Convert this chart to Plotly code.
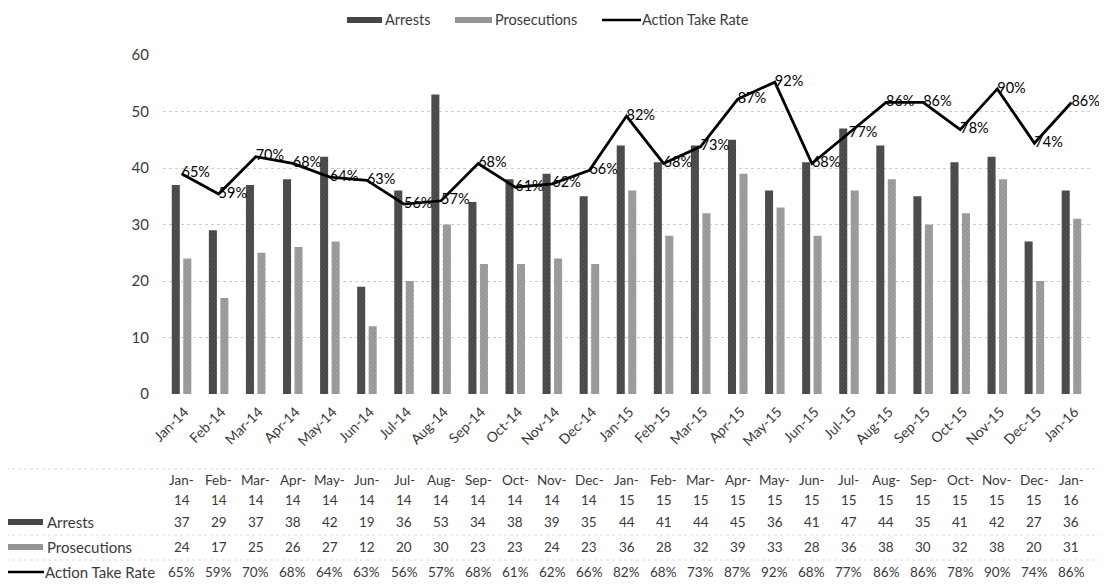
import plotly.graph_objects as go

months = ["Jan-14","Feb-14","Mar-14","Apr-14","May-14","Jun-14","Jul-14","Aug-14","Sep-14","Oct-14","Nov-14","Dec-14",
          "Jan-15","Feb-15","Mar-15","Apr-15","May-15","Jun-15","Jul-15","Aug-15","Sep-15","Oct-15","Nov-15","Dec-15","Jan-16"]
arrests = [37,29,37,38,42,19,36,53,34,38,39,35,44,41,44,45,36,41,47,44,35,41,42,27,36]
prosecutions = [24,17,25,26,27,12,20,30,23,23,24,23,36,28,32,39,33,28,36,38,30,32,38,20,31]
rate = [65,59,70,68,64,63,56,57,68,61,62,66,82,68,73,87,92,68,77,86,86,78,90,74,86]

# page body has an 8px margin; figure is sized to fit the 1107x585 window
OFF = 8
W, H = 1107 - OFF, 585 - OFF
# plot area in window pixels
PL, PR, PT, PB = 163, 1090, 55, 394
L, R, T, B = PL - OFF, W - (PR - OFF), PT - OFF, H - (PB - OFF)
FONT = "Lato"
ARR_C = "#464646"
PRO_C = "#959595"
TXT = "#3a3a3a"

def px(p):
    return (p - PL) / (PR - PL)

def py(p):
    return (PB - p) / (PB - PT)

fig = go.Figure()
fig.add_trace(go.Bar(x=months, y=arrests, name="Arrests", marker=dict(color=ARR_C, line_width=0,
                     pattern=dict(shape="x", fgcolor="#7a7a7a", size=3, solidity=0.3)), showlegend=False))
fig.add_trace(go.Bar(x=months, y=prosecutions, name="Prosecutions", marker=dict(color=PRO_C, line_width=0,
                     pattern=dict(shape="x", fgcolor="#c8c8c8", size=3, solidity=0.3)), showlegend=False))
fig.add_trace(go.Scatter(x=months, y=[r / 100 for r in rate], yaxis="y2", mode="lines+text", name="Action Take Rate",
                         line=dict(color="black", width=2.8), text=[f"{r}%" for r in rate],
                         textposition="middle right", textfont=dict(family=FONT, size=14.5, color="black"),
                         showlegend=False, cliponaxis=False))

fig.update_layout(
    width=W, height=H, margin=dict(l=L, r=R, t=T, b=B, autoexpand=False),
    paper_bgcolor="white", plot_bgcolor="white",
    barmode="group", bargap=0.38, bargroupgap=0.3,
    font=dict(family=FONT, size=13, color=TXT),
    xaxis=dict(type="category", range=[-0.5, len(months) - 0.5], tickangle=-45, tickfont=dict(size=14, color=TXT),
               showgrid=False, showline=False, ticks="", automargin=False, ticklabelshift=3,
               ticklabelstandoff=6),
    yaxis=dict(range=[0, 60], dtick=10, showgrid=True, gridcolor="#cdcdcd", griddash="dot", gridwidth=1,
               zeroline=False, tickfont=dict(size=15, color=TXT), ticklabelstandoff=13, automargin=False),
    yaxis2=dict(range=[0, 1], overlaying="y", side="right", visible=False),
)

def swatch(x0, x1, yc, color, hh=3):
    fig.add_shape(type="rect", xref="paper", yref="paper", x0=px(x0), x1=px(x1), y0=py(yc + hh), y1=py(yc - hh),
                  fillcolor=color, line_width=0)

def line_sw(x0, x1, yc):
    fig.add_shape(type="line", xref="paper", yref="paper", x0=px(x0), x1=px(x1), y0=py(yc), y1=py(yc),
                  line=dict(color="black", width=2.5))

def label(x, yc, text, size=14, color=TXT, anchor="left"):
    fig.add_annotation(xref="paper", yref="paper", x=px(x), y=py(yc), text=text, showarrow=False,
                       xanchor=anchor, yanchor="middle", font=dict(family=FONT, size=size, color=color),
                       borderpad=0)

# top legend
swatch(347, 382, 20, ARR_C)
label(384, 20, "Arrests", size=14.5)
swatch(455, 492, 20, PRO_C)
label(494, 20, "Prosecutions", size=14.5)
line_sw(602, 641, 20)
label(641, 20, "Action Take Rate", size=14.5)

# data table
Y_H1, Y_H2, Y_ARR, Y_PRO, Y_RATE = 480, 500, 522, 547, 572
for yy in (469, 535, 560):
    fig.add_shape(type="line", xref="paper", yref="paper", x0=px(0), x1=px(1100), y0=py(yy), y1=py(yy),
                  line=dict(color="#dadada", width=1, dash="dot"))
for i, m in enumerate(months):
    mon, yr = m.split("-")
    for yy, t in [(Y_H1, mon + "-"), (Y_H2, yr), (Y_ARR, str(arrests[i])), (Y_PRO, str(prosecutions[i])),
                  (Y_RATE, f"{rate[i]}%")]:
        fig.add_annotation(xref="x", yref="paper", x=m, y=py(yy), text=t, showarrow=False, xanchor="center",
                           yanchor="middle", font=dict(family=FONT, size=13.5, color=TXT), borderpad=0)

swatch(7, 43, Y_ARR, ARR_C)
label(46, Y_ARR, "Arrests", size=15)
swatch(7, 43, Y_PRO, PRO_C)
label(46, Y_PRO, "Prosecutions", size=15)
line_sw(5, 44, Y_RATE)
label(44, Y_RATE, "Action Take Rate", size=15)

fig.write_html("out.html")
